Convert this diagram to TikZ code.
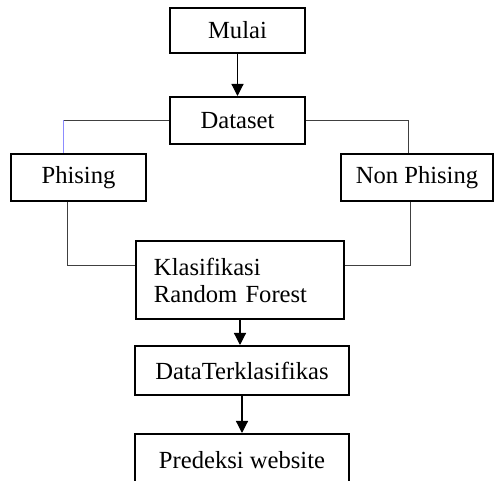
\documentclass[tikz,border=0pt]{standalone}
\usepackage{fontspec}
\setmainfont{Liberation Serif}
\usetikzlibrary{arrows.meta}

\begin{document}
\begin{tikzpicture}[
        x=0.5pt, y=-0.5pt,
        box/.style={rectangle, draw, line width=1pt, inner sep=0pt,
          font=\fontsize{12.3}{13.5}\selectfont},
        link/.style={draw=black!75, line width=0.5pt},
        flow/.style={draw=black, line width=0.6pt, -{Triangle[width=6pt,length=6pt]}}
      ]
      \clip (0,0) rectangle (494,481);
      \useasboundingbox (0,0) rectangle (494,481);

      \node[box, minimum width=67.5pt, minimum height=22.5pt] (mulai) at (237.5,30.5) {Mulai};
      \node[box, minimum width=67.5pt, minimum height=23.5pt] (dataset) at (237.5,120.5) {Dataset};
      \node[box, minimum width=67.5pt, minimum height=23.5pt] (phising) at (78.5,177.5) {Phising};
      \node[box, minimum width=76pt, minimum height=23.5pt] (nonphising) at (417,177.5) {Non Phising};
      \node[box, minimum width=104pt, minimum height=39pt, align=left,
            text width=86pt, inner xsep=9pt] (klasifikasi) at (240,280) {Klasifikasi\\Random Forest};
      \node[box, minimum width=107pt, minimum height=24.5pt] (terklas) at (242,370.5) {DataTerklasifikas};
      \node[box, minimum width=107pt, minimum height=40pt, text depth=0pt] (prediksi) at (242,474) {};
      \node[font=\fontsize{12.3}{13.5}\selectfont] (prediksitxt) at (242,460) {Predeksi website};

      % mulai -> dataset
      \draw[flow] (mulai) -- (dataset);

      % dataset splits in two
      \draw[link] (dataset.west) -| ([xshift=-7.75pt]phising.north);
      \draw[link, draw=blue!45!white] ([xshift=-7.75pt]phising.north) -- ([xshift=-7.75pt]phising.north |- dataset.west);
      \draw[link] (dataset.east) -| ([xshift=-4.25pt]nonphising.north);

      % both classes go to the classifier
      \draw[link] ([xshift=-5.75pt]phising.south) |- ([yshift=7pt]klasifikasi.west);
      \draw[link] ([xshift=-3.5pt]nonphising.south) |- ([yshift=7pt]klasifikasi.east);

      \draw[flow] (klasifikasi.south) -- (klasifikasi.south |- terklas.north);
      \draw[flow] (terklas.south -| prediksi.north) -- (prediksi.north);
    \end{tikzpicture}
\end{document}
